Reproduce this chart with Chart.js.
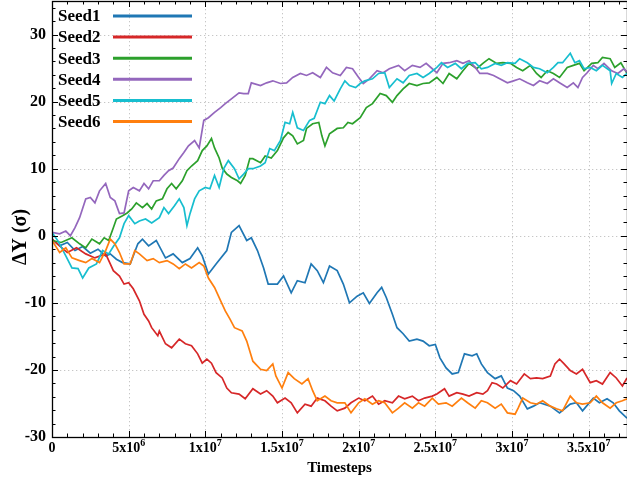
<!DOCTYPE html>
<html><head><meta charset="utf-8">
<script src="https://cdn.jsdelivr.net/npm/chart.js@4.4.1/dist/chart.umd.min.js"></script>
<style>html,body{margin:0;padding:0;background:#fff;}#wrap{width:627px;height:478px;position:relative;}</style>
</head><body><div id="wrap"><canvas id="c" width="627" height="478"></canvas></div>
<script>
const seedNames = ['Seed1','Seed2','Seed3','Seed4','Seed5','Seed6'];
const seedColors = ['#1f77b4','#d62728','#2ca02c','#9467bd','#17becf','#ff7f0e'];
const xTickValues = [0,5,10,15,20,25,30,35];
const xTickMantissa = ['0','5','1','1.5','2','2.5','3','3.5'];
const xTickExponent = ['','6','7','7','7','7','7','7'];
const yTickValues = [-30,-20,-10,0,10,20,30];

// time in units of 1e6 timesteps
const seed1T = [0,0.5,1,1.5,2,2.5,3,3.5,3.8,4.2,4.6,5.1,5.6,5.9,6.3,6.8,7.4,7.9,8.5,9,9.5,9.8,10.2,10.7,11.4,11.7,12.2,12.7,13,13.4,13.8,14.1,14.7,15.1,15.6,16,16.5,16.9,17.3,17.7,18.1,18.6,19,19.4,19.9,20.3,20.7,21.2,21.5,21.8,22.2,22.5,22.9,23.3,23.8,24.2,24.6,25,25.3,25.7,26.1,26.5,26.9,27.4,27.7,28,28.4,28.9,29.3,29.7,30.1,30.5,31,31.4,31.8,32.5,33.1,33.8,34.2,34.6,35.3,35.7,36.2,36.6,37,37.5];
const seed1V = [-0.5,-1.5,-1,-2.2,-1.6,-2.6,-2,-3,-2.7,-3.5,-4,-4.2,-1.2,-0.5,-1.5,-0.7,-3.3,-2.7,-4,-3.4,-1.8,-3,-5.7,-4.2,-2.2,0.5,1.5,-0.7,-0.3,-2.2,-4.8,-7.2,-7.2,-6,-8.5,-6.7,-7,-4.2,-5.2,-7,-4.5,-5.2,-7.2,-10,-9,-8.5,-10.1,-8.5,-7.7,-9.2,-11.7,-13.7,-14.6,-15.7,-15.4,-15.7,-16.4,-16.2,-18.2,-19.7,-20.6,-20.4,-17.6,-17.9,-17.6,-19.1,-20.4,-21.3,-20.9,-22.7,-23.1,-23.9,-25.8,-25.4,-24.9,-25.4,-26.4,-25.1,-24.9,-26.1,-24.2,-24.9,-24.3,-24.9,-26.1,-27.2];

const seed2T = [0,0.5,1,1.6,2.2,2.8,3.5,3.8,4,4.4,4.7,5,5.3,5.7,6,6.3,6.5,6.9,7,7.4,7.8,8.3,8.7,9.1,9.5,9.8,10.1,10.4,10.7,11.1,11.4,11.7,12.2,12.6,13.1,13.6,14,14.4,14.7,15.2,15.6,16,16.5,16.9,17.3,17.8,18.2,18.6,19.1,19.5,20,20.4,20.9,21.3,21.7,22.2,22.6,23,23.5,23.9,24.3,24.8,25.1,25.6,25.9,26.4,26.8,27.2,27.7,28.1,28.4,28.7,29,29.4,29.9,30.3,30.8,31.2,31.6,32,32.5,32.8,33.1,33.4,33.8,34.2,34.6,35.1,35.5,35.9,36.4,36.8,37.2,37.5];
const seed2V = [-0.5,-1.5,-2.5,-1.8,-2.7,-3.3,-2.7,-4.2,-5.2,-6,-7.2,-7,-7.9,-9.7,-11.7,-12.7,-13.7,-14.9,-14.2,-16.1,-16.7,-15.4,-16.1,-16.4,-17.6,-19,-18.4,-19,-20.4,-21.2,-22.7,-23.4,-23.6,-24.3,-22.8,-23.6,-23.1,-23.9,-24.9,-24.2,-24.9,-26.4,-25.1,-25.4,-24.2,-24.6,-25.4,-26.1,-25.7,-24.9,-24.2,-24.6,-23.9,-25.1,-24.6,-24.9,-23.9,-24.3,-23.9,-24.6,-24.2,-23.9,-23.6,-22.8,-23.9,-23.4,-23.6,-23.9,-23.4,-23.6,-23.1,-21.9,-22.1,-22.7,-21.6,-22.1,-20.6,-21.3,-21.2,-21.3,-20.9,-19.1,-18.4,-19.1,-20.1,-20.6,-19.9,-21.9,-21.6,-22.1,-20.4,-21.2,-22.4,-21.2];

const seed3T = [0,0.6,1.3,1.8,2.2,2.6,3.1,3.4,3.7,4,4.2,4.6,4.9,5.2,5.5,5.9,6.2,6.5,6.8,7.2,7.5,7.8,8.1,8.5,8.8,9.1,9.5,9.8,10.1,10.4,10.6,10.9,11.1,11.4,11.7,12.1,12.3,12.6,12.9,13.1,13.6,13.9,14.3,14.7,15.1,15.4,15.7,16,16.4,16.6,17,17.4,17.6,17.8,18.1,18.6,19,19.3,19.6,20.1,20.5,20.9,21.4,21.8,22.2,22.5,22.9,23.3,23.8,24.2,24.6,25.1,25.5,25.9,26.4,26.8,27.2,27.7,28.1,28.5,29,29.4,29.9,30.3,30.7,31.2,31.6,31.9,32.3,32.7,33.1,33.6,34,34.4,34.7,35.2,35.6,35.9,36.4,36.7,37.1,37.5];
const seed3V = [-0.7,-1,-0.3,-1.2,-1.8,-0.5,-1.2,-0.3,-0.7,1.2,2.5,3,3.4,4,4.9,4.2,4.8,4,5.2,5.5,7,7.8,7,8.2,9.7,10.4,11.2,12.7,13.4,14.5,13.1,11.6,10.1,9.2,8.7,8.2,7.8,9,11.5,11.5,10.9,11.9,11.6,12.7,14.6,15.4,14.9,13.7,14.2,16,16.7,16.9,14.9,13.4,15.2,16,16.1,16.9,16.7,17.6,19.1,19.7,21.2,20.9,19.9,20.9,21.9,22.7,22.4,22.7,22.8,23.6,22.7,24.2,23.4,24.6,25.7,24.9,25.7,26.4,25.7,25.8,25.7,25.1,24.6,25.4,24.2,23.6,24.6,24.2,23.6,25.1,25.4,25.7,24.6,25.7,25.8,26.6,26.4,25.1,25.8,24.2];

const seed4T = [0,0.5,0.9,1.2,1.5,1.8,2.2,2.5,2.8,3.1,3.5,3.8,4.1,4.4,4.7,5,5.3,5.7,6,6.3,6.6,7,7.3,7.6,7.9,8.3,8.6,8.9,9.3,9.6,9.9,10.2,10.6,11,11.3,11.7,12.2,12.5,12.8,13,13.6,14,14.4,14.9,15.3,15.7,16.2,16.6,17,17.5,17.9,18.3,18.8,19.2,19.6,20,20.3,20.7,21.2,21.6,22,22.6,23,23.5,24,24.4,24.8,25.1,25.5,25.9,26.4,26.8,27.2,27.6,27.9,28.4,28.8,29.2,29.7,30.1,30.5,31,31.4,31.8,32.3,32.7,33.1,33.6,34,34.3,34.6,34.9,35.3,35.6,36,36.5,36.9,37.3,37.5];
const seed4V = [0.5,0.3,0.7,0,1.2,2.7,5.5,5.7,4.9,6.7,7.8,5.7,5.2,3.3,3.4,6.7,7.2,6.7,7.8,7,8.2,8.2,9,9.7,10.1,11.5,12.4,13.4,14.2,13.1,17.2,17.6,18.4,19.1,19.7,20.4,21.3,21.2,21.2,22.8,22.4,22.8,23.1,22.7,22.8,23.6,24.2,23.9,24.3,23.6,25.1,24.3,23.9,25.1,24.9,23.6,22.7,23.4,24.6,24.3,24.9,25.4,24.6,25.4,25.1,25.7,24.9,24.3,25.7,25.8,26.1,25.7,26.1,25.1,24.2,24.2,23.9,23.4,22.8,23.1,23.4,22.8,22.4,23.1,22.7,23.4,22.8,22.1,22.8,22.1,23.6,24.3,25.4,24.9,25.7,24.6,24.2,24.9,24.4];

const seed5T = [0,0.4,0.9,1.3,1.7,2,2.4,2.9,3.3,3.7,4,4.4,4.7,5,5.4,5.7,6.1,6.5,7,7.3,7.6,8,8.3,8.6,8.8,9,9.3,9.6,10,10.3,10.6,10.9,11.2,11.5,11.9,12.2,12.5,12.8,13.1,13.6,13.9,14.2,14.5,14.9,15.2,15.5,15.7,16,16.4,16.8,17.1,17.5,17.8,18.1,18.4,18.8,19.1,19.4,19.8,20.1,20.4,20.9,21.3,21.7,22,22.5,22.9,23.3,23.8,24.2,24.6,25.1,25.4,25.8,26.3,26.7,27.1,27.6,28,28.4,28.9,29.3,29.7,30.2,30.5,31,31.4,31.8,32.3,32.7,33,33.3,33.8,34.1,34.4,34.7,35.1,35.5,35.9,36.4,36.5,36.8,37.2,37.5];
const seed5V = [0.5,-0.8,-3,-4.8,-4.9,-6.3,-4.8,-4.2,-2.2,-2.7,-1.6,-0.3,1.8,3,1.8,2.2,2.5,1.9,2.7,4.2,3.3,4.5,5.5,4.2,1.5,3.3,5.5,6.7,7.2,7,9,7.2,10,11.2,10,8.5,9.2,10,10,10.4,10.9,13,12.7,14.2,16.9,16.7,18.4,16.1,15.7,17.2,17.5,19.9,19.7,20.9,20.1,21.9,23.1,22.4,22.1,22.7,23.1,23.4,24.2,24.3,22.1,23.4,22.8,23.9,24.2,23.6,24.2,25.1,25.8,25.1,25.7,24.9,25.7,25.8,24.9,25.1,25.7,25.4,25.8,25.7,26.4,25.8,25.1,24.9,24.3,25.1,25.8,25.8,27.2,25.8,26.1,24.9,25.1,24.6,25.4,24.6,22.7,24.2,23.6,24.2];

const seed6T = [0,0.5,0.9,1.3,1.8,2.2,2.6,3.1,3.5,3.8,4.1,4.4,4.7,5.1,5.4,5.7,6.2,6.6,7,7.5,7.9,8.3,8.7,9.1,9.6,9.9,10.2,10.6,11,11.3,11.6,11.9,12.4,12.7,13.1,13.6,14,14.4,14.6,15,15.4,15.8,16.3,16.7,17,17.3,17.8,18.2,18.6,19.1,19.5,20,20.4,20.9,21.3,21.7,22.2,22.6,23,23.5,23.9,24.3,24.8,25.2,25.7,26.1,26.7,27.1,27.6,28,28.4,28.9,29.3,29.7,30.2,30.4,30.7,31.2,31.6,32,32.5,32.9,33.3,33.8,34.2,34.6,35.1,35.5,35.9,36.4,36.8,37.2,37.5];
const seed6V = [-0.7,-2.5,-1.8,-3.3,-3.7,-4,-3.4,-4,-2.2,-0.5,-1.2,-2.5,-4.2,-4.2,-2.2,-2.7,-3.7,-3.4,-4,-3.7,-4.2,-4.9,-4.2,-4.8,-4,-4.5,-6.3,-7.7,-9.7,-11.2,-12.4,-13.7,-14.2,-15.7,-18.7,-19.9,-20.1,-19.1,-20.9,-22.7,-20.4,-21.3,-22.1,-21.3,-23.1,-24.6,-23.9,-24.6,-24.9,-24.9,-26.4,-24.9,-24.3,-25.1,-24.6,-24.9,-26.4,-25.7,-24.9,-25.7,-24.9,-25.4,-24.2,-25.1,-24.9,-25.4,-24.2,-24.9,-25.7,-24.6,-24.9,-25.7,-25.1,-26.4,-26.6,-25.7,-24.2,-24.9,-25.1,-24.6,-25.4,-25.8,-26.1,-23.9,-24.9,-25.1,-24.9,-23.9,-24.9,-25.7,-24.9,-24.6,-24.3];

const seriesT = [seed1T, seed2T, seed3T, seed4T, seed5T, seed6T];
const seriesV = [seed1V, seed2V, seed3V, seed4V, seed5V, seed6V];

const FONT = "'Liberation Serif','Times New Roman',serif";

const decor = {
  id: 'decor',
  beforeDatasetsDraw(chart) {
    const {ctx, chartArea: a, scales: {x, y}} = chart;
    ctx.save();
    ctx.strokeStyle = '#c6c6c6';
    ctx.lineWidth = 1;
    ctx.setLineDash([1.3, 2.7]);
    xTickValues.forEach(v => {
      if (v === x.min) return;
      const px = Math.round(x.getPixelForValue(v)) + 0.5;
      ctx.beginPath(); ctx.moveTo(px, a.top); ctx.lineTo(px, a.bottom); ctx.stroke();
    });
    yTickValues.forEach(v => {
      if (v === y.min) return;
      const py = Math.round(y.getPixelForValue(v)) + 0.5;
      ctx.beginPath(); ctx.moveTo(a.left, py); ctx.lineTo(a.right, py); ctx.stroke();
    });
    ctx.restore();
  },
  afterDatasetsDraw(chart) {
    const {ctx, chartArea: a, scales: {x, y}} = chart;
    ctx.save();
    ctx.setLineDash([]);
    ctx.strokeStyle = '#000';
    ctx.lineWidth = 1.3;
    ctx.strokeRect(a.left + 0.5, a.top + 0.5, a.right - a.left, a.bottom - a.top);
    ctx.lineWidth = 1;
    for (let v = y.min; v <= y.max + 1e-9; v += 2) {
      const py = Math.round(y.getPixelForValue(v)) + 0.5;
      const major = yTickValues.includes(v);
      const len = major ? 6 : 3.5;
      ctx.beginPath(); ctx.moveTo(a.left, py); ctx.lineTo(a.left + len, py); ctx.stroke();
      ctx.beginPath(); ctx.moveTo(a.right, py); ctx.lineTo(a.right - len, py); ctx.stroke();
    }
    for (let v = x.min; v <= x.max + 1e-9; v += 1) {
      const px = Math.round(x.getPixelForValue(v)) + 0.5;
      const major = xTickValues.includes(v);
      const len = major ? 6 : 3.5;
      ctx.beginPath(); ctx.moveTo(px, a.bottom); ctx.lineTo(px, a.bottom - len); ctx.stroke();
      ctx.beginPath(); ctx.moveTo(px, a.top); ctx.lineTo(px, a.top + len); ctx.stroke();
    }
    ctx.fillStyle = '#000';
    ctx.textAlign = 'left';
    ctx.textBaseline = 'alphabetic';
    xTickValues.forEach((v, i) => {
      const px = x.getPixelForValue(v);
      const sup = xTickExponent[i];
      const base = xTickMantissa[i] + (sup ? 'x10' : '');
      ctx.font = 'bold 14px ' + FONT;
      const wb = ctx.measureText(base).width;
      ctx.font = 'bold 10px ' + FONT;
      const ws = sup ? ctx.measureText(sup).width : 0;
      const start = px - (wb + ws) / 2;
      ctx.font = 'bold 14px ' + FONT;
      ctx.fillText(base, start, 452);
      if (sup) { ctx.font = 'bold 10px ' + FONT; ctx.fillText(sup, start + wb, 446); }
    });
    ctx.textAlign = 'center';
    ctx.textBaseline = 'middle';
    ctx.font = 'bold 15px ' + FONT;
    ctx.fillText('Timesteps', (a.left + a.right) / 2, 468);
    ctx.save();
    ctx.translate(21, 237);
    ctx.rotate(-Math.PI / 2);
    ctx.font = 'bold 20px ' + FONT;
    ctx.fillText('ΔY (σ)', 0, 0);
    ctx.restore();
    ctx.textAlign = 'left';
    ctx.textBaseline = 'middle';
    ctx.font = 'bold 17px ' + FONT;
    seedNames.forEach((name, i) => {
      const cy = 16 + i * 21.1;
      ctx.fillStyle = '#000';
      ctx.fillText(name, 58, cy + 1);
      ctx.strokeStyle = seedColors[i];
      ctx.lineWidth = 3;
      ctx.beginPath(); ctx.moveTo(113, cy); ctx.lineTo(192, cy); ctx.stroke();
    });
    ctx.restore();
  }
};

const datasets = seedNames.map((name, i) => ({
  label: name,
  data: seriesT[i].map((t, k) => ({x: t, y: seriesV[i][k]})),
  borderColor: seedColors[i],
  backgroundColor: seedColors[i],
  borderWidth: 1.7,
  pointRadius: 0,
  tension: 0,
  fill: false,
  order: seedNames.length - i
}));

new Chart(document.getElementById('c'), {
  type: 'line',
  data: {datasets},
  plugins: [decor],
  options: {
    responsive: false,
    animation: false,
    devicePixelRatio: 1,
    layout: {padding: {top: 1, right: 0, left: 0, bottom: 0}},
    plugins: {legend: {display: false}, tooltip: {enabled: false}, title: {display: false}},
    scales: {
      x: {
        type: 'linear', min: 0, max: 37.5,
        afterBuildTicks: s => { s.ticks = xTickValues.map(v => ({value: v})); },
        afterFit: s => { s.height = 41; s.paddingLeft = 0; s.paddingRight = 0; s.paddingTop = 0; s.paddingBottom = 0; },
        ticks: {display: false},
        grid: {display: false, drawTicks: false},
        border: {display: false}
      },
      y: {
        type: 'linear', min: -30, max: 35,
        afterBuildTicks: s => { s.ticks = yTickValues.map(v => ({value: v})); },
        afterFit: s => { s.width = 52; s.paddingTop = 0; s.paddingBottom = 0; s.paddingLeft = 0; s.paddingRight = 0; },
        ticks: {
          color: '#000', padding: 6,
          font: {family: FONT, size: 16, weight: 'bold'},
          callback: v => String(v)
        },
        grid: {display: false, drawTicks: false},
        border: {display: false}
      }
    }
  }
});
</script>
</body></html>
